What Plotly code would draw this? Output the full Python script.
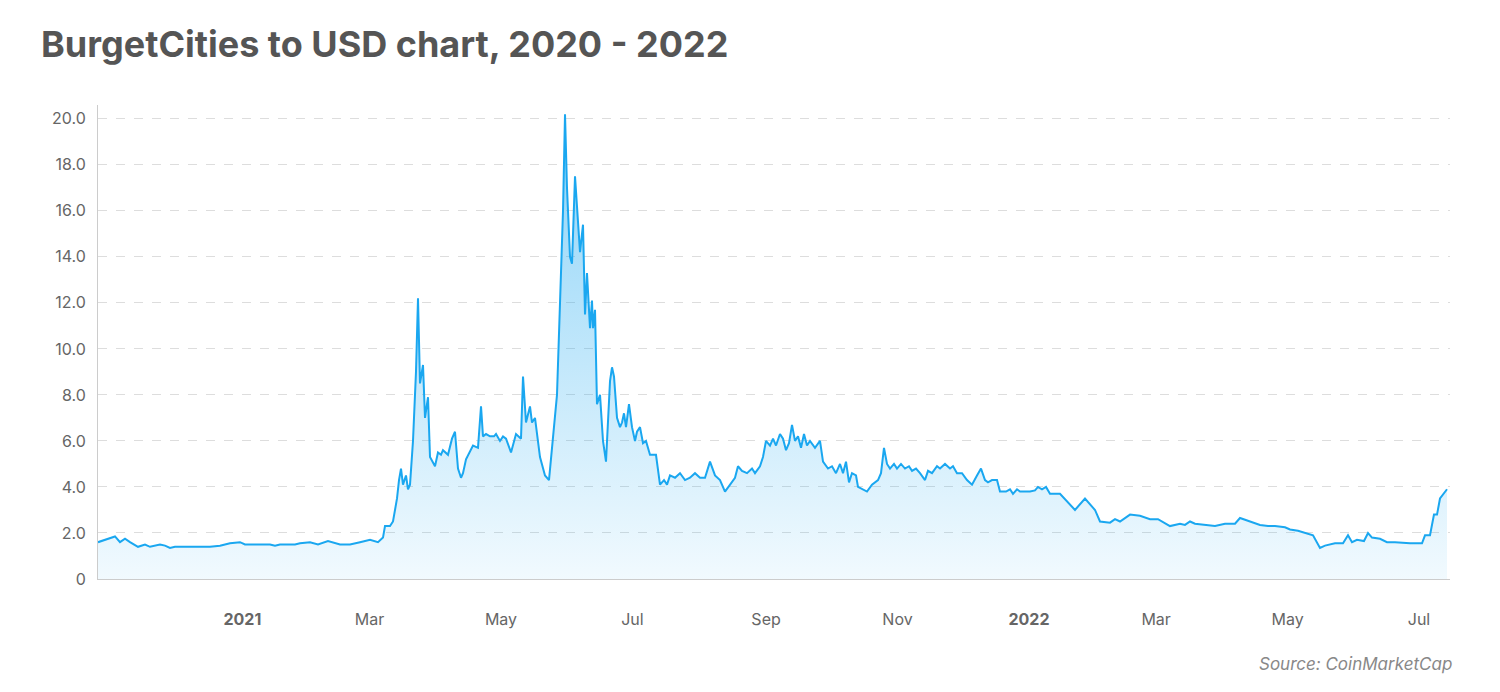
import plotly.graph_objects as go
import pandas as pd

# readings: position along time axis (px offset from series start) and price in USD
pos = [0,17,22,27,32,40,47,52,62,67,72,77,102,112,122,132,142,147,172,177,182,197,202,212,220,230,242,252,262,272,280,285,287,292,295,299,301,303,305,308,310,312,315,318,320,322,325,327,330,332,337,340,343,345,350,354,357,360,363,365,368,375,380,383,385,388,392,396,398,402,405,408,413,418,423,425,428,432,434,437,442,447,451,459,462,465,467,469,472,474,477,480,482,485,487,489,492,494,495,497,499,502,505,508,512,514,516,519,522,524,526,528,531,534,537,539,542,545,548,552,558,562,566,569,572,577,582,587,592,597,602,607,612,617,622,627,632,637,640,644,649,654,657,662,665,668,672,675,678,682,685,688,691,694,697,700,703,706,709,712,717,722,725,730,734,738,742,745,748,751,754,758,760,765,769,774,780,783,786,789,792,796,799,803,807,811,814,818,822,827,830,834,839,842,847,852,855,859,864,869,874,879,883,887,890,894,899,902,908,912,915,919,922,932,937,940,944,948,952,962,977,987,997,1002,1012,1017,1022,1032,1042,1052,1060,1072,1082,1087,1092,1097,1107,1117,1127,1137,1142,1152,1162,1170,1177,1187,1192,1200,1207,1215,1222,1227,1237,1245,1250,1254,1259,1266,1270,1274,1282,1289,1297,1312,1324,1327,1332,1336,1339,1342,1349]
price = [1.6,1.85,1.6,1.75,1.6,1.4,1.5,1.4,1.5,1.45,1.35,1.4,1.4,1.4,1.45,1.55,1.6,1.5,1.5,1.45,1.5,1.5,1.55,1.6,1.5,1.65,1.5,1.5,1.6,1.7,1.6,1.8,2.3,2.3,2.5,3.5,4.3,4.8,4.1,4.5,3.9,4.1,6.0,9.0,12.2,8.5,9.3,7.0,7.9,5.3,4.9,5.5,5.4,5.6,5.4,6.1,6.4,4.8,4.4,4.6,5.2,5.8,5.7,7.5,6.2,6.3,6.2,6.2,6.3,6.0,6.2,6.1,5.5,6.3,6.1,8.8,6.8,7.5,6.8,7.0,5.3,4.5,4.3,8.0,12.0,16.0,20.2,17.0,14.0,13.7,17.5,15.5,14.2,15.4,11.5,13.3,10.9,12.1,10.9,11.7,7.6,8.0,6.0,5.1,8.6,9.2,8.8,7.0,6.6,6.8,7.2,6.6,7.6,6.6,6.0,6.4,6.6,5.9,6.0,5.4,5.4,4.1,4.3,4.1,4.5,4.4,4.6,4.3,4.4,4.6,4.4,4.4,5.1,4.5,4.3,3.8,4.1,4.4,4.9,4.7,4.6,4.8,4.6,4.9,5.3,6.0,5.8,6.1,5.8,6.3,6.1,5.6,5.9,6.7,6.0,6.2,5.7,6.3,5.8,6.0,5.7,6.0,5.1,4.8,4.9,4.6,5.0,4.6,5.1,4.2,4.6,4.5,4.0,3.9,3.8,4.1,4.3,4.6,5.7,5.0,4.8,5.0,4.8,5.0,4.8,4.9,4.7,4.8,4.6,4.3,4.7,4.6,4.9,4.8,5.0,4.8,4.9,4.6,4.6,4.3,4.1,4.5,4.8,4.3,4.2,4.3,4.3,3.8,3.8,3.9,3.7,3.9,3.8,3.8,3.85,4.0,3.9,4.0,3.7,3.7,3.0,3.5,3.0,2.5,2.45,2.6,2.5,2.8,2.75,2.6,2.6,2.3,2.4,2.35,2.5,2.4,2.35,2.3,2.4,2.4,2.65,2.5,2.35,2.3,2.3,2.25,2.15,2.1,2.0,1.9,1.35,1.45,1.55,1.55,1.9,1.6,1.7,1.65,2.0,1.8,1.75,1.6,1.6,1.55,1.55,1.9,1.9,2.8,2.8,3.5,3.9]
n = min(len(pos), len(price))
start = pd.Timestamp("2020-10-26")
dates = [start + pd.Timedelta(days=round(p / 2.155, 2)) for p in pos[:n]]
price = price[:n]

tickvals = ["2021-01-01","2021-03-01","2021-05-01","2021-07-01","2021-09-01","2021-11-01",
            "2022-01-01","2022-03-01","2022-05-01","2022-07-01"]
ticktext = ["<b>2021</b>","Mar","May","Jul","Sep","Nov","<b>2022</b>","Mar","May","Jul"]
yticks = [0,2,4,6,8,10,12,14,16,18,20]
ytext = ["0"] + [f"{v:.1f}" for v in yticks[1:]]

fig = go.Figure(go.Scatter(
    x=dates, y=price, mode="lines",
    line=dict(color="#1aa7f0", width=2),
    fill="tozeroy",
    fillgradient=dict(type="vertical",
                      colorscale=[[0, "rgba(26,167,240,0.06)"], [1, "rgba(26,167,240,0.5)"]]),
    hoverinfo="x+y"))

fig.update_layout(
    width=1500, height=692, plot_bgcolor="white", paper_bgcolor="white",
    margin=dict(l=90, r=58, t=97, b=121),
    font=dict(family="Inter, Lato, sans-serif", color="#666"),
    showlegend=False,
    title=dict(text="<b>BurgetCities to USD chart, 2020 - 2022</b>", x=0.022, xanchor="left",
               y=0.948, yanchor="middle", font=dict(size=36, color="#555")),
    xaxis=dict(range=[start, start + pd.Timedelta(days=1352/2.155)],
               tickvals=tickvals, ticktext=ticktext, showgrid=False,
               showline=True, linecolor="#ccc", ticks="", tickfont=dict(size=16, color="#666"),
               ticklabelstandoff=26),
    yaxis=dict(range=[0, 20.6], tickvals=yticks, ticktext=ytext, showgrid=True,
               gridcolor="#ddd", griddash="dash", showline=True, linecolor="#ccc",
               zeroline=False, tickfont=dict(size=16, color="#666"), ticklabelstandoff=8),
    annotations=[dict(text="<i>Source: CoinMarketCap</i>", x=1.003, xref="paper", xanchor="right",
                      y=-0.155, yref="paper", yanchor="top", showarrow=False,
                      font=dict(size=17, color="#888"))],
)
fig.write_html("out.html")
